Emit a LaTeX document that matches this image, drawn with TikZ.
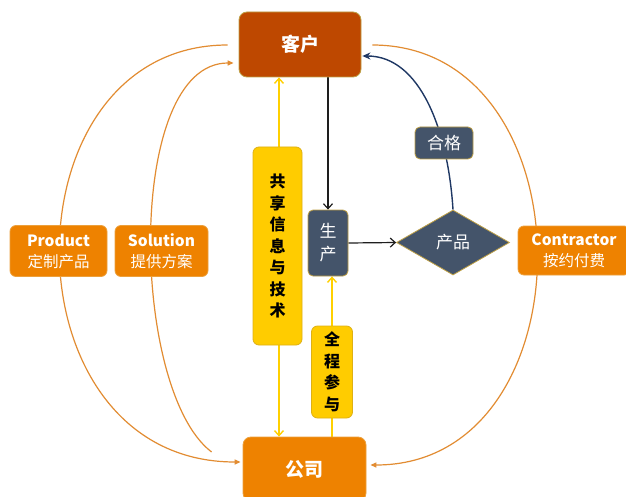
\documentclass[tikz,border=0pt]{standalone}
\usepackage{fontspec}
\setmainfont{Noto Sans CJK SC}
\usetikzlibrary{shapes.geometric,arrows.meta,calc,backgrounds}
\definecolor{kehuc}{RGB}{190,72,0}
\definecolor{orgc}{RGB}{238,130,0}
\definecolor{orgbd}{RGB}{236,160,60}
\definecolor{yelc}{RGB}{255,204,0}
\definecolor{yelbd}{RGB}{222,176,20}
\definecolor{slatec}{RGB}{68,84,106}
\definecolor{goldbd}{RGB}{190,160,70}
\definecolor{curvec}{RGB}{226,140,50}
\definecolor{navyc}{RGB}{31,56,100}
\definecolor{yline}{RGB}{255,208,0}
\definecolor{blkc}{RGB}{30,30,30}
\begin{document}
\begin{tikzpicture}[x=1pt,y=-1pt,
  bigbox/.style={rounded corners=8pt, draw=goldbd, line width=0.8pt, text=white, inner sep=0pt, font=\fontsize{19}{22}\selectfont\bfseries},
  sidebox/.style={rounded corners=6pt, draw=orgbd, line width=0.8pt, fill=orgc, text=white, inner sep=0pt, align=center, minimum height=51pt, font=\fontsize{15.5}{21}\selectfont},
  yelbox/.style={rounded corners=6pt, draw=yelbd, line width=0.8pt, fill=yelc, text=black, inner sep=0pt, align=center, font=\fontsize{16}{21.5}\selectfont\bfseries},
  slatebox/.style={rounded corners=5pt, draw=goldbd, line width=0.8pt, fill=slatec, text=white, inner sep=0pt, align=center, font=\fontsize{17}{23}\selectfont},
  blkarrow/.style={draw=blkc, line width=1.2pt, -{Straight Barb[length=5pt,width=9pt]}},
  yelarrow/.style={draw=yline, line width=1.4pt},
  curvearrow/.style={draw=curvec, line width=1.2pt},
  navyarrow/.style={draw=navyc, line width=1.4pt, -{Stealth[length=8pt,width=7pt]}}
]
\useasboundingbox (0,0) rectangle (626,497);

\node[bigbox, fill=kehuc, minimum width=122pt, minimum height=65pt] (kehu) at (300,44.5) {客户};
\node[bigbox, fill=orgc, draw=orgbd, minimum width=123pt, minimum height=64pt] (gongsi) at (304.5,469) {公司};

\node[sidebox, minimum width=97pt] (prod) at (58.5,251) {\bfseries Product\\定制产品};
\node[sidebox, minimum width=93pt] (sol) at (161.5,251) {\bfseries Solution\\提供方案};
\node[sidebox, minimum width=112pt, minimum height=49pt] (contr) at (574,250.5) {\bfseries Contractor\\按约付费};

\node[yelbox, minimum width=49pt, minimum height=198pt] (share) at (277.5,246) {共\\享\\信\\息\\与\\技\\术};
\node[yelbox, minimum width=41pt, minimum height=92pt] (part) at (332,372) {全\\程\\参\\与};

\node[slatebox, minimum width=40pt, minimum height=66pt] (make) at (328,243) {生\\产};
\node[slatebox, minimum width=58pt, minimum height=32pt] (ok) at (444,143) {合格};
\node[diamond, draw=goldbd, line width=0.8pt, fill=slatec, text=white, inner sep=0pt,
      minimum width=113pt, minimum height=65pt, font=\fontsize{17}{20}\selectfont] (prodd) at (453,242.5) {产品};

\begin{pgfonlayer}{background}
  \fill[white] (0,0) rectangle (626,497);
  % black arrows
  \draw[blkarrow] (kehu.south -| make.north) -- (make.north);
  \draw[blkarrow] (make.east) -- (prodd.west);
  % navy curve through 合格
  \draw[navyarrow] (prodd.north) .. controls (448,130) and (420,56) .. ($(kehu.east)+(1,11.5)$);
  % yellow lines
  \draw[yelarrow, {Straight Barb[length=5pt,width=9pt]}-{Straight Barb[length=5pt,width=9pt]}] ($(kehu.south -| share.north)+(1.5,0)$) -- ($(gongsi.north -| share.north)+(1.5,0)$);
  \draw[yelarrow, -{Straight Barb[length=5pt,width=9pt]}] (gongsi.north -| part.north) -- (make.south -| part.north);
  % orange curves
  \draw[curvearrow, -{Triangle[length=6pt,width=5pt]}] ($(kehu.west)+(-11,0.5)$) .. controls (2,45) and (2,462) .. ($(gongsi.west)+(-2,-7)$);
  \draw[curvearrow, -{Triangle[length=6pt,width=5pt]}] ($(gongsi.west)+(-31,-17)$) .. controls (130,390) and (125,63) .. ($(kehu.west)+(-5,18.5)$);
  \draw[curvearrow, -{Triangle[length=6pt,width=5pt]}] ($(kehu.east)+(11,0.5)$) .. controls (592,45) and (592,465) .. ($(gongsi.east)+(4,-4)$);
\end{pgfonlayer}
\end{tikzpicture}
\end{document}
